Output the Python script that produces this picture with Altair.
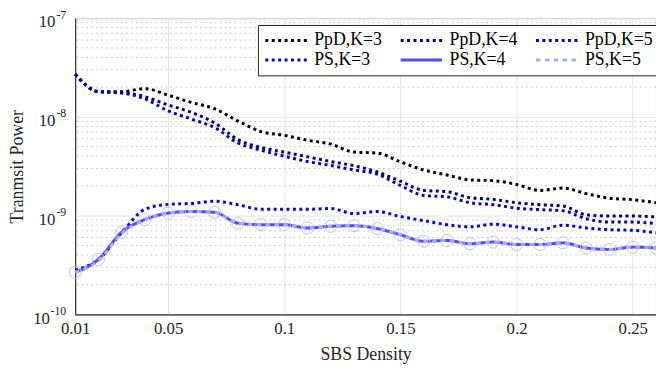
import altair as alt
import pandas as pd

# ---- data ----
density = [0.01, 0.02, 0.03, 0.04, 0.05, 0.06, 0.07, 0.08, 0.09, 0.10, 0.11, 0.12, 0.13,
           0.14, 0.15, 0.16, 0.17, 0.18, 0.19, 0.20, 0.21, 0.22, 0.23, 0.24, 0.25, 0.26]

ppd_k3 = [2.7e-8, 1.8e-8, 1.8e-8, 1.93e-8, 1.66e-8, 1.4e-8, 1.21e-8, 9.1e-9, 7.1e-9, 6.5e-9,
          5.8e-9, 5.3e-9, 4.4e-9, 4.3e-9, 3.5e-9, 2.9e-9, 2.58e-9, 2.3e-9, 2.26e-9, 2.07e-9,
          1.8e-9, 1.9e-9, 1.67e-9, 1.5e-9, 1.45e-9, 1.35e-9]
ppd_k4 = [2.7e-8, 1.8e-8, 1.76e-8, 1.6e-8, 1.32e-8, 1.11e-8, 8.7e-9, 5.9e-9, 4.9e-9, 4.4e-9,
          3.94e-9, 3.53e-9, 3.2e-9, 2.77e-9, 2.23e-9, 1.8e-9, 1.75e-9, 1.52e-9, 1.46e-9, 1.35e-9,
          1.29e-9, 1.25e-9, 1.02e-9, 9.9e-10, 9.9e-10, 9.7e-10]
ppd_k5 = [2.7e-8, 1.8e-8, 1.74e-8, 1.52e-8, 1.15e-8, 9.5e-9, 7.8e-9, 5.45e-9, 4.6e-9, 4.0e-9,
          3.53e-9, 3.22e-9, 2.9e-9, 2.63e-9, 2.02e-9, 1.6e-9, 1.55e-9, 1.35e-9, 1.29e-9, 1.19e-9,
          1.15e-9, 1.12e-9, 9.3e-10, 8.6e-10, 8.6e-10, 8.3e-10]
ps_k3 = [2.8e-10, 3.6e-10, 6.7e-10, 1.16e-9, 1.3e-9, 1.33e-9, 1.4e-9, 1.29e-9, 1.16e-9, 1.16e-9,
         1.16e-9, 1.18e-9, 1.05e-9, 1.1e-9, 9.8e-10, 8.9e-10, 8.1e-10, 7.7e-10, 8.2e-10, 7.7e-10,
         7.2e-10, 8.0e-10, 7.5e-10, 7.2e-10, 7.1e-10, 6.7e-10]
ps_k4 = [2.67e-10, 3.6e-10, 6.8e-10, 9.1e-10, 1.06e-9, 1.1e-9, 1.08e-9, 8.4e-10, 8.1e-10, 8.1e-10,
         7.5e-10, 7.8e-10, 7.9e-10, 7.4e-10, 6.4e-10, 5.5e-10, 5.6e-10, 5.2e-10, 5.4e-10, 5.1e-10,
         5.1e-10, 5.3e-10, 4.7e-10, 4.55e-10, 4.8e-10, 4.7e-10]
ps_k5 = [2.67e-10, 3.5e-10, 6.6e-10, 9.0e-10, 1.06e-9, 1.1e-9, 1.08e-9, 8.4e-10, 8.1e-10, 8.1e-10,
         7.5e-10, 7.8e-10, 7.9e-10, 7.4e-10, 6.4e-10, 5.5e-10, 5.6e-10, 5.2e-10, 5.4e-10, 5.1e-10,
         5.1e-10, 5.3e-10, 4.7e-10, 4.55e-10, 4.8e-10, 4.7e-10]

series_names = ["PpD,K=3", "PpD,K=4", "PpD,K=5", "PS,K=3", "PS,K=4", "PS,K=5"]
series_values = [ppd_k3, ppd_k4, ppd_k5, ps_k3, ps_k4, ps_k5]
series_colors = ["#000000", "#00007A", "#0000C8", "#0000FF", "#4D4DFF", "#AAAAFF"]
series_dash = [[3, 3.5], [3, 3.5], [3, 3.5], [3, 3.5], [1, 0], [4.5, 4.5]]
series_width = [3, 3, 3, 3, 1, 4.5]

x_ticks = [0.01, 0.05, 0.1, 0.15, 0.2, 0.25]
y_major = [1e-10, 1e-9, 1e-8, 1e-7]
y_exponents = ["-10", "-9", "-8", "-7"]
y_minor = [m * 10.0 ** e for e in (-10, -9, -8) for m in range(2, 10)]

rows = []
for name, vals in zip(series_names, series_values):
    for d, v in zip(density, vals):
        rows.append({"density": d, "power": v, "series": name})
df = pd.DataFrame(rows)
minor_df = pd.DataFrame({"power": y_minor})
ylab_df = pd.DataFrame({"power": y_major, "exp": y_exponents, "base": ["10"] * 4})

FONT = "Liberation Serif"
TXT = "#262626"

xscale = alt.Scale(domain=[0.01, 0.26], nice=False, zero=False)
yscale = alt.Scale(type="log", domain=[1e-10, 1e-7], nice=False)

y_axis = alt.Axis(values=y_major, title="Tranmsit Power", grid=True, ticks=False, labels=False,
                  titleX=-58, titleY=150, titleAngle=-90, titleBaseline="middle",
                  titleAlign="center")
x_axis = alt.Axis(values=x_ticks, format="~g", title="SBS Density", grid=True, ticks=False,
                  labelFlush=False)

color_enc = alt.Color("series:N", scale=alt.Scale(domain=series_names, range=series_colors),
                      legend=alt.Legend(title=None, orient="none", legendX=185, legendY=7,
                                        columns=3, direction="horizontal",
                                        symbolType="M-1,0H4.25", symbolSize=256,
                                        labelFont=FONT, labelFontSize=18, labelColor="#000000",
                                        labelFontWeight="normal",
                                        labelLimit=0, labelOffset=32,
                                        columnPadding=12, rowPadding=1,
                                        padding=6, fillColor="white", strokeColor="#262626"))
dash_enc = alt.StrokeDash("series:N", scale=alt.Scale(domain=series_names, range=series_dash))
width_enc = alt.StrokeWidth("series:N", scale=alt.Scale(domain=series_names, range=series_width))

x_plain = alt.X("density:Q", scale=xscale, axis=x_axis)
y_plain = alt.Y("power:Q", scale=yscale, axis=y_axis)

minor_grid = alt.Chart(minor_df).mark_rule(color="#C4C4C4", strokeWidth=1, strokeDash=[1.5, 3.5]).encode(
    y=y_plain
)

# y tick labels: "10" with a raised exponent
ylab_small = ylab_df[ylab_df["exp"] != "-10"]
ylab_big = ylab_df[ylab_df["exp"] == "-10"]
exp_text = alt.Chart(ylab_df).mark_text(align="right", baseline="middle", dy=-3.5, fontSize=12,
                                        font=FONT, color=TXT).encode(
    y=alt.Y("power:Q", scale=yscale), x=alt.value(-9), text="exp:N")
base_text1 = alt.Chart(ylab_small).mark_text(align="right", baseline="middle", dy=4.5, fontSize=17,
                                             font=FONT, color=TXT).encode(
    y=alt.Y("power:Q", scale=yscale), x=alt.value(-20), text="base:N")
base_text2 = alt.Chart(ylab_big).mark_text(align="right", baseline="middle", dy=4.5, fontSize=17,
                                           font=FONT, color=TXT).encode(
    y=alt.Y("power:Q", scale=yscale), x=alt.value(-25.5), text="base:N")

base = alt.Chart(df)
lines_main = base.transform_filter(alt.datum.series != "PS,K=5").mark_line(
    interpolate="monotone", strokeCap="butt").encode(
    x=x_plain, y=y_plain, color=color_enc, strokeDash=dash_enc, strokeWidth=width_enc)
circles = base.transform_filter(alt.datum.series == "PS,K=4").mark_point(
    shape="circle", filled=False, size=150, strokeWidth=1, stroke="#BDBDFF", fill=None,
    opacity=1).encode(x=x_plain, y=y_plain)
lines_k5 = base.transform_filter(alt.datum.series == "PS,K=5").mark_line(
    interpolate="monotone", strokeCap="butt").encode(
    x=x_plain, y=y_plain, color=color_enc, strokeDash=dash_enc, strokeWidth=width_enc)

chart = alt.layer(minor_grid, lines_main, circles, lines_k5, exp_text, base_text1, base_text2).properties(
    width=588, height=300,
    autosize=alt.AutoSizeParams(type="none"),
    padding={"left": 68, "top": 8, "right": 0, "bottom": 48},
).configure(font=FONT).configure_view(stroke="#262626", strokeWidth=1).configure_axis(
    labelFont=FONT, titleFont=FONT, labelFontSize=17, titleFontSize=18,
    labelColor=TXT, titleColor=TXT, titleFontWeight="normal",
    gridColor="#E3E3E3", gridWidth=1, domainColor="#262626", domainWidth=1,
).configure_axisX(labelPadding=6, titlePadding=10)

chart.save("out.html", embed_options={"renderer": "svg", "actions": False})
